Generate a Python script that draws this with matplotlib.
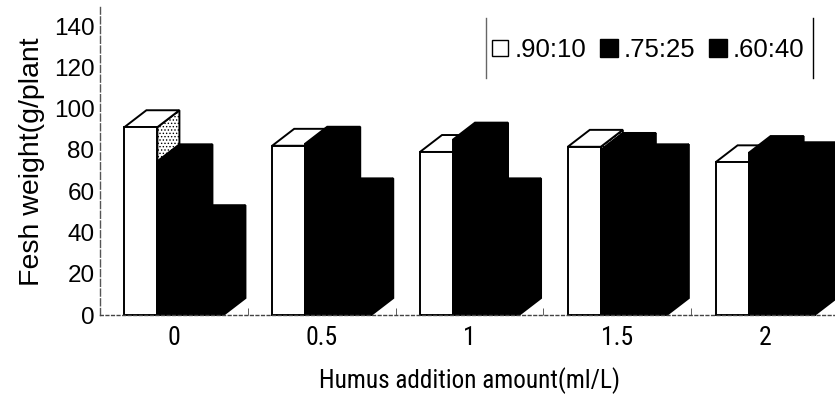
import matplotlib
matplotlib.use("Agg")
import matplotlib.pyplot as plt
from matplotlib.patches import Polygon
from matplotlib.lines import Line2D

# fresh weight per plant, read by humus dose
amounts = ['0', '0.5', '1', '1.5', '2']
series_names = ['.90:10', '.75:25', '.60:40']
ratio_90_10 = [91, 82, 79, 81.5, 74]
ratio_75_25 = [74.5, 83, 85, 80, 78.5]
ratio_60_40 = [45, 58, 58, 74.5, 75.5]

plt.rcParams['hatch.linewidth'] = 0.6

W = 0.2234          # bar width in category units
DX, DY = 0.149, 8.2  # fake depth: x in categories, y in g/plant
LW = 1.4
SANS = ['Liberation Sans', 'DejaVu Sans']
NARROW = ['Roboto Condensed', 'Liberation Sans', 'DejaVu Sans']

fig = plt.figure(figsize=(8.35, 3.96), dpi=100)
ax = fig.add_axes([100 / 835, 81 / 396, 739 / 835, 149 * 2.064 / 396])


def bar3d(x0, h, face, side, hatch=None):
    # right side, top, then front so the next bar to the right covers this side
    ax.add_patch(Polygon([(x0 + W, 0), (x0 + W + DX, DY), (x0 + W + DX, h + DY), (x0 + W, h)],
                         closed=True, facecolor=side, edgecolor='black', lw=LW,
                         hatch=hatch, joinstyle='miter', clip_on=False))
    ax.add_patch(Polygon([(x0, h), (x0 + DX, h + DY), (x0 + W + DX, h + DY), (x0 + W, h)],
                         closed=True, facecolor=face, edgecolor='black', lw=LW,
                         joinstyle='miter', clip_on=False))
    ax.bar(x0, h, W, align='edge', facecolor=face, edgecolor='black', lw=LW, clip_on=False)


styles = [('white', 'white', '.....'), ('black', 'black', None), ('black', 'black', None)]
data = [ratio_90_10, ratio_75_25, ratio_60_40]
for i in range(len(amounts)):
    for k, (vals, (face, side, hatch)) in enumerate(zip(data, styles)):
        x0 = i - 1.5 * W + k * W
        bar3d(x0, vals[i], face, side, hatch)

ax.set_xlim(-0.5, 4.5)
ax.set_ylim(0, 149)
ax.set_yticks(range(0, 141, 20))
ax.set_xticks(range(len(amounts)))
ax.set_xticklabels(amounts)
ax.set_xticks([0.5, 1.5, 2.5, 3.5], minor=True)

for s in ['top', 'right']:
    ax.spines[s].set_visible(False)
ax.spines['left'].set_linestyle((0, (5, 2)))
ax.spines['left'].set_color('#555555')
ax.spines['left'].set_linewidth(1.0)
ax.spines['bottom'].set_linestyle((0, (2, 2)))
ax.spines['bottom'].set_color('#444444')
ax.spines['bottom'].set_linewidth(1.0)

ax.tick_params(axis='y', length=0, pad=4, labelsize=17.5)
ax.tick_params(axis='x', which='major', length=0, pad=8)
ax.tick_params(axis='x', which='minor', direction='in', length=5, color='#444444')
for t in ax.get_yticklabels():
    t.set_family(SANS)
for t in ax.get_xticklabels():
    t.set_family(NARROW)
    t.set_fontsize(18.5)

ax.set_ylabel('Fesh weight(g/plant', fontsize=20.5, family=SANS, labelpad=6)
ax.set_xlabel('Humus addition amount(ml/L)', fontsize=18.2, family=NARROW, labelpad=12)

handles = [Line2D([], [], ls='none', marker='s', markersize=12, markerfacecolor='white',
                  markeredgecolor='black', markeredgewidth=1.0),
           Line2D([], [], ls='none', marker='s', markersize=13, markerfacecolor='black',
                  markeredgecolor='black'),
           Line2D([], [], ls='none', marker='s', markersize=13, markerfacecolor='black',
                  markeredgecolor='black')]
fig.legend(handles, series_names, loc='center left', bbox_to_anchor=(490 / 835, 1 - 50 / 396),
           ncol=3, frameon=False, handlelength=0.8, handletextpad=0.15, columnspacing=0.5,
           borderpad=0, borderaxespad=0, prop={'family': SANS, 'size': 18.5})
# side rules of the legend box
for xp, col in [(486, '#666666'), (813, 'black')]:
    fig.add_artist(Line2D([xp / 835, xp / 835], [1 - 18 / 396, 1 - 78 / 396],
                          color=col, lw=1.0, transform=fig.transFigure))

fig.savefig('out.png', dpi=100)
